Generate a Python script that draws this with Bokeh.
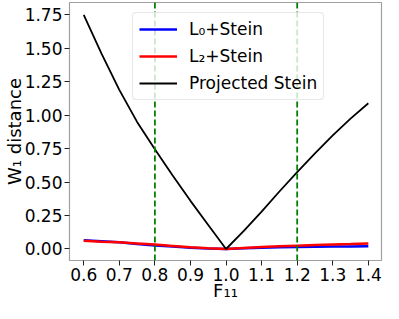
from bokeh.plotting import figure
from bokeh.models import Span, Legend, LegendItem, FixedTicker, Range1d
from bokeh.embed import file_html
from bokeh.resources import INLINE

# Data
f11 = [0.60, 0.65, 0.70, 0.75, 0.80, 0.85, 0.90, 0.95, 1.00,
       1.05, 1.10, 1.15, 1.20, 1.25, 1.30, 1.35, 1.40]
proj_stein = [1.75, 1.46, 1.19, 0.95, 0.745, 0.55, 0.36, 0.18, 0.00,
              0.135, 0.28, 0.43, 0.575, 0.715, 0.85, 0.975, 1.09]
l0_stein = [0.065, 0.058, 0.050, 0.038, 0.027, 0.018, 0.010, 0.004, 0.000,
            0.005, 0.010, 0.013, 0.015, 0.017, 0.018, 0.019, 0.020]
l2_stein = [0.062, 0.054, 0.050, 0.042, 0.033, 0.023, 0.013, 0.006, 0.000,
            0.008, 0.015, 0.020, 0.025, 0.029, 0.033, 0.037, 0.042]
vlines = [0.8, 1.2]

x_ticks = [0.6, 0.7, 0.8, 0.9, 1.0, 1.1, 1.2, 1.3, 1.4]
x_tick_labels = ["0.6", "0.7", "0.8", "0.9", "1.0", "1.1", "1.2", "1.3", "1.4"]
y_ticks = [0.0, 0.25, 0.5, 0.75, 1.0, 1.25, 1.5, 1.75]
y_tick_labels = ["0.00", "0.25", "0.50", "0.75", "1.00", "1.25", "1.50", "1.75"]

series_names = ["L\u2080+Stein", "L\u2082+Stein", "Projected Stein"]

FONT = "DejaVu Sans"

p = figure(width=383, height=303, output_backend="svg", toolbar_location=None,
           x_range=Range1d(0.56, 1.437), y_range=Range1d(-0.086, 1.843),
           min_border_top=2, min_border_right=2, min_border_left=0, min_border_bottom=0)

p.grid.visible = False
p.outline_line_color = "#a0a0a0"
p.outline_line_width = 1.2
p.background_fill_color = "white"
p.border_fill_color = "white"

for ax in (p.xaxis[0], p.yaxis[0]):
    ax.axis_line_color = None
    ax.major_tick_out = 5
    ax.major_tick_in = 0
    ax.minor_tick_out = 0
    ax.minor_tick_in = 0
    ax.major_tick_line_color = "#222222"
    ax.major_label_text_font = FONT
    ax.major_label_text_font_size = "17px"
    ax.major_label_text_color = "black"
    ax.axis_label_text_font = FONT
    ax.axis_label_text_font_size = "18px"
    ax.axis_label_text_font_style = "normal"
    ax.axis_label_text_color = "black"
    ax.major_label_standoff = 2

p.xaxis.axis_label_standoff = -4
p.yaxis.axis_label_standoff = -3

p.xaxis.ticker = FixedTicker(ticks=x_ticks)
p.xaxis.major_label_overrides = dict(zip(x_ticks, x_tick_labels))
p.yaxis.ticker = FixedTicker(ticks=y_ticks)
p.yaxis.major_label_overrides = dict(zip(y_ticks, y_tick_labels))
p.xaxis.axis_label = "F\u2081\u2081"
p.yaxis.axis_label = "W\u2081 distance"

for v in vlines:
    p.add_layout(Span(location=v, dimension="height", line_color="green",
                      line_width=1.8, line_dash="6 3"))

r0 = p.line(f11, l0_stein, line_color="blue", line_width=2.5)
r2 = p.line(f11, l2_stein, line_color="red", line_width=2.5)
rp = p.line(f11, proj_stein, line_color="black", line_width=1.8)

legend = Legend(items=[LegendItem(label=series_names[0], renderers=[r0]),
                       LegendItem(label=series_names[1], renderers=[r2]),
                       LegendItem(label=series_names[2], renderers=[rp])],
                location="top_left")
legend.label_text_font = FONT
legend.label_text_font_size = "17px"
legend.label_text_color = "black"
legend.glyph_width = 38
legend.glyph_height = 20
legend.label_height = 20
legend.spacing = 7
legend.padding = 6
legend.margin = 0
legend.label_standoff = 12
legend.border_line_color = "#d0d0d0"
legend.border_line_width = 1
legend.background_fill_alpha = 0.8
legend.border_radius = 4
p.add_layout(legend)
legend.location = (63, 160)

open("out.html", "w").write(file_html(p, INLINE))
